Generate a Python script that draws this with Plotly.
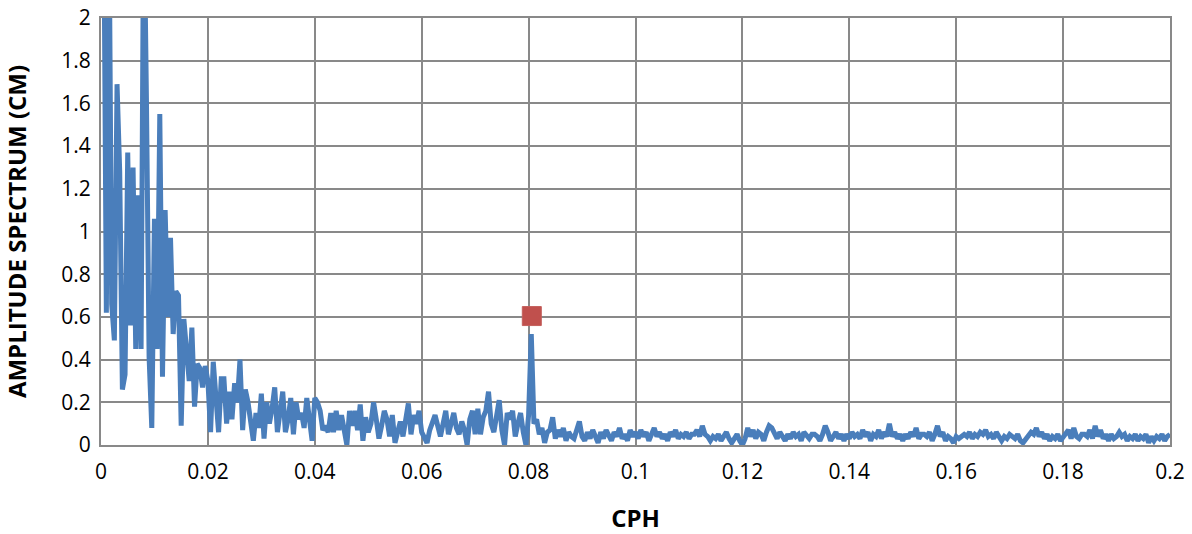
import numpy as np
import plotly.graph_objects as go

# Frequency grid (cycles per hour), sampling step of the spectrum
freq_step = 0.0005

# Amplitude spectrum (cm), 20 values per 0.01 CPH
amp_000_010 = [2.6, 0.62, 2.5, 0.66, 0.49, 1.69, 1.28, 0.26, 0.33, 1.37,
               0.56, 1.30, 0.45, 1.17, 0.45, 2.6, 1.62, 0.41, 0.08, 1.06]
amp_010_020 = [0.45, 1.55, 0.32, 1.10, 0.60, 0.97, 0.52, 0.72, 0.70, 0.09,
               0.59, 0.46, 0.30, 0.55, 0.18, 0.38, 0.36, 0.27, 0.37, 0.30]
amp_020_030 = [0.06, 0.39, 0.25, 0.06, 0.31, 0.31, 0.10, 0.25, 0.12, 0.29,
               0.20, 0.40, 0.07, 0.26, 0.20, 0.12, 0.02, 0.15, 0.08, 0.24]
amp_030_040 = [0.03, 0.20, 0.10, 0.17, 0.27, 0.06, 0.15, 0.25, 0.06, 0.12,
               0.22, 0.05, 0.20, 0.12, 0.15, 0.08, 0.22, 0.12, 0.02, 0.22]
amp_040_050 = [0.20, 0.16, 0.07, 0.09, 0.06, 0.15, 0.06, 0.16, 0.07, 0.14,
               0.08, 0.00, 0.16, 0.09, 0.16, 0.07, 0.19, 0.02, 0.13, 0.06]
amp_050_060 = [0.10, 0.20, 0.12, 0.03, 0.09, 0.16, 0.12, 0.04, 0.14, 0.01,
               0.06, 0.11, 0.04, 0.12, 0.195, 0.05, 0.14, 0.10, 0.16, 0.06]
amp_060_070 = [0.03, 0.01, 0.07, 0.10, 0.14, 0.09, 0.04, 0.10, 0.16, 0.05,
               0.10, 0.15, 0.08, 0.05, 0.11, 0.07, 0.00, 0.12, 0.16, 0.05]
amp_070_080 = [0.17, 0.05, 0.13, 0.16, 0.25, 0.10, 0.06, 0.14, 0.21, 0.07,
               0.00, 0.15, 0.12, 0.16, 0.04, 0.10, 0.15, 0.06, 0.00, 0.14]
amp_080_090 = [0.52, 0.10, 0.12, 0.05, 0.08, 0.01, 0.06, 0.07, 0.13, 0.03,
               0.07, 0.04, 0.08, 0.02, 0.06, 0.04, 0.03, 0.07, 0.11, 0.04]
amp_090_100 = [0.02, 0.06, 0.03, 0.07, 0.04, 0.01, 0.06, 0.03, 0.07, 0.05,
               0.02, 0.06, 0.04, 0.08, 0.03, 0.05, 0.02, 0.07, 0.04, 0.06]
amp_100_110 = [0.03, 0.07, 0.04, 0.06, 0.02, 0.05, 0.08, 0.04, 0.06, 0.03,
               0.05, 0.02, 0.06, 0.04, 0.07, 0.03, 0.05, 0.04, 0.06, 0.03]
amp_110_120 = [0.05, 0.05, 0.07, 0.04, 0.09, 0.05, 0.04, 0.02, 0.04, 0.03,
               0.05, 0.02, 0.04, 0.06, 0.03, 0.01, 0.03, 0.05, 0.02, 0.00]
amp_120_130 = [0.03, 0.08, 0.04, 0.07, 0.03, 0.06, 0.05, 0.02, 0.06, 0.09,
               0.08, 0.05, 0.03, 0.06, 0.04, 0.02, 0.05, 0.03, 0.06, 0.04]
amp_130_140 = [0.05, 0.02, 0.06, 0.04, 0.03, 0.05, 0.05, 0.04, 0.02, 0.05,
               0.09, 0.06, 0.02, 0.04, 0.06, 0.03, 0.05, 0.02, 0.05, 0.03]
amp_140_150 = [0.06, 0.04, 0.05, 0.03, 0.07, 0.04, 0.06, 0.02, 0.05, 0.04,
               0.07, 0.03, 0.06, 0.04, 0.10, 0.04, 0.06, 0.03, 0.05, 0.02]
amp_150_160 = [0.05, 0.03, 0.06, 0.04, 0.08, 0.03, 0.05, 0.05, 0.04, 0.06,
               0.02, 0.05, 0.09, 0.04, 0.06, 0.02, 0.04, 0.03, 0.01, 0.04]
amp_160_170 = [0.03, 0.04, 0.05, 0.04, 0.06, 0.03, 0.05, 0.04, 0.06, 0.05,
               0.07, 0.04, 0.05, 0.03, 0.06, 0.04, 0.02, 0.04, 0.03, 0.05]
amp_170_180 = [0.04, 0.03, 0.05, 0.02, 0.01, 0.03, 0.05, 0.06, 0.05, 0.08,
               0.04, 0.06, 0.03, 0.05, 0.02, 0.04, 0.03, 0.05, 0.02, 0.04]
amp_180_190 = [0.05, 0.07, 0.03, 0.08, 0.04, 0.03, 0.05, 0.05, 0.04, 0.07,
               0.03, 0.09, 0.04, 0.07, 0.03, 0.05, 0.02, 0.05, 0.03, 0.04]
amp_190_200 = [0.06, 0.04, 0.05, 0.02, 0.04, 0.03, 0.05, 0.02, 0.04, 0.03,
               0.05, 0.01, 0.04, 0.02, 0.04, 0.03, 0.05, 0.02, 0.04, 0.05]

amplitude = (amp_000_010 + amp_010_020 + amp_020_030 + amp_030_040 + amp_040_050
             + amp_050_060 + amp_060_070 + amp_070_080 + amp_080_090 + amp_090_100
             + amp_100_110 + amp_110_120 + amp_120_130 + amp_130_140 + amp_140_150
             + amp_150_160 + amp_160_170 + amp_170_180 + amp_180_190 + amp_190_200)
frequency = list(np.round(np.arange(1, len(amplitude) + 1) * freq_step, 5))

# Highlighted tidal constituent
marker_freq = [0.0806]
marker_amp = [0.604]

x_ticks = [0, 0.02, 0.04, 0.06, 0.08, 0.1, 0.12, 0.14, 0.16, 0.18, 0.2]
y_ticks = [0, 0.2, 0.4, 0.6, 0.8, 1, 1.2, 1.4, 1.6, 1.8, 2]

fig = go.Figure()
fig.add_trace(go.Scatter(
    x=frequency, y=amplitude, mode="lines",
    line=dict(color="#4A7EBB", width=5),
    showlegend=False, hoverinfo="x+y",
))
fig.add_trace(go.Scatter(
    x=marker_freq, y=marker_amp, mode="markers",
    marker=dict(symbol="square", size=19, color="#C0504D",
                line=dict(color="#C4605D", width=1)),
    showlegend=False,
))

grid_color = "#898989"
font_family = "'Open Sans', Lato, sans-serif"

fig.update_layout(
    width=1192, height=534,
    margin=dict(l=101, r=22, t=18, b=89),
    paper_bgcolor="white", plot_bgcolor="white",
    font=dict(family=font_family, size=21, color="black"),
    xaxis=dict(
        range=[0, 0.2], tickvals=x_ticks,
        ticktext=[f"{v:g}" for v in x_ticks],
        showgrid=True, gridcolor=grid_color, gridwidth=2,
        showline=True, linecolor=grid_color, linewidth=2, mirror=True,
        ticks="outside", ticklen=7, tickcolor="rgba(0,0,0,0)",
        zeroline=False, automargin=False, ticklabeloverflow="allow",
        title=dict(text="<b>CPH</b>", font=dict(size=24), standoff=27),
    ),
    yaxis=dict(
        range=[0, 2], tickvals=y_ticks,
        ticktext=[f"{v:g}" for v in y_ticks],
        showgrid=True, gridcolor=grid_color, gridwidth=2,
        showline=True, linecolor=grid_color, linewidth=2, mirror=True,
        ticks="outside", ticklen=4, tickcolor="rgba(0,0,0,0)",
        zeroline=False, automargin=False, ticklabeloverflow="allow",
        title=dict(text="<b>AMPLITUDE SPECTRUM (CM)</b>", font=dict(size=24), standoff=33),
    ),
)

# remove the default page margin so the 1192x534 figure fills the window exactly
fig.write_html("out.html", config={"displayModeBar": False},
               post_script="document.body.style.margin='0';")
